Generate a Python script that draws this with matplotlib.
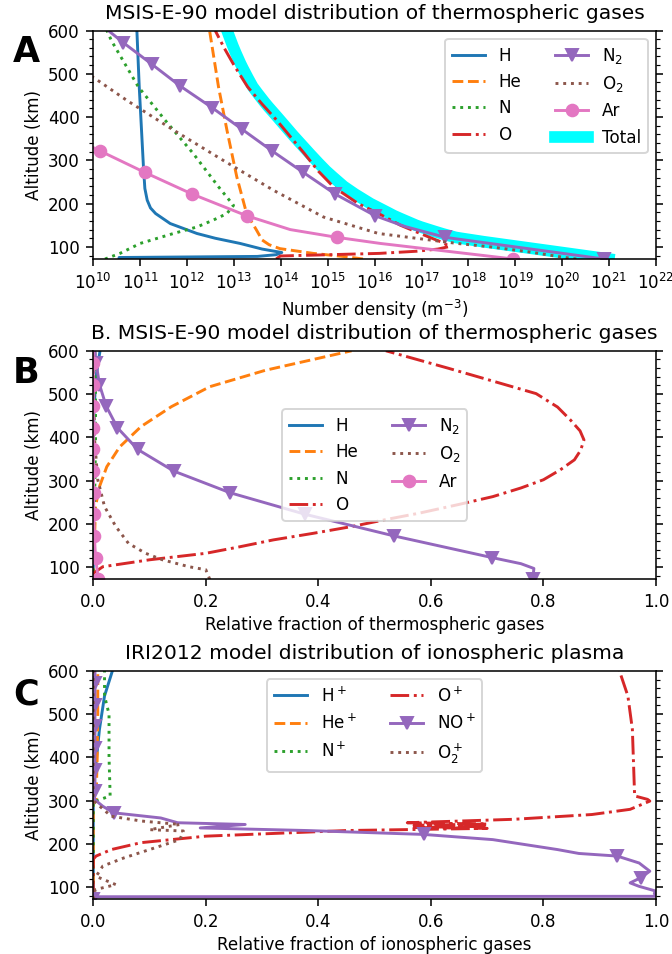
import numpy as np
import matplotlib
matplotlib.use("Agg")
import matplotlib.pyplot as plt
from matplotlib.ticker import AutoMinorLocator, LogLocator, NullLocator, MultipleLocator

# ---- panel A: MSIS-E-90 number densities, log10(m^-3) ----
h_alt = [72, 75.5, 78, 82, 87, 95, 108, 120, 131, 154, 177, 190, 208, 235, 285, 470, 600]
h_log = [10.55, 10.55, 13.5, 13.9, 14.02, 13.6, 13.13, 12.6, 12.21, 11.64, 11.33, 11.22, 11.15, 11.1, 11.07, 10.98, 10.93]
he_alt = [72, 77, 85, 96, 105, 116, 139, 177, 262, 370, 470, 600]
he_log = [15.75, 15.41, 14.69, 13.98, 13.75, 13.6, 13.48, 13.27, 13.06, 12.85, 12.67, 12.48]
n_alt = [72, 85, 108, 131, 146, 162, 177, 196, 239, 316, 393, 470, 576, 600]
n_log = [10.25, 10.57, 11.0, 11.71, 12.21, 12.56, 12.85, 12.99, 12.67, 12.13, 11.53, 10.96, 10.39, 10.29]
o_alt = [72, 79, 85, 90, 95, 101, 110, 131, 150, 175, 200, 239, 275, 316, 355, 393, 430, 470, 520, 560, 600]
o_log = [13.9, 13.99, 16.1, 16.9, 17.35, 17.6, 17.45, 16.97, 16.55, 16.12, 15.65, 15.12, 14.8, 14.5, 14.2, 13.91, 13.6, 13.29, 13.0, 12.79, 12.6]
n2_alt = [72, 97, 122, 147, 172, 222, 272, 322, 372, 422, 472, 522, 572, 600]
n2_log = [20.89, 19.2, 17.51, 16.65, 16.01, 15.16, 14.48, 13.81, 13.17, 12.53, 11.85, 11.25, 10.64, 10.32]
o2_alt = [72, 77, 88, 100, 108, 131, 169, 231, 300, 370, 439, 489, 522, 572, 600]
o2_log = [20.3, 19.96, 19.32, 18.47, 17.76, 16.08, 14.91, 13.84, 12.77, 11.71, 10.71, 10.04, 9.55, 8.8, 8.4]
ar_alt = [72, 108, 122, 140, 172, 222, 272, 322, 372, 422, 472, 522, 572, 600]
ar_log = [18.96, 16.12, 15.2, 14.2, 13.27, 12.11, 11.1, 10.14, 9.2, 8.3, 7.4, 6.5, 5.6, 5.1]

# ---- panel B: relative fractions of thermospheric gases ----
fb_h_alt = [72, 300, 400, 450, 500, 550, 600]
fb_h = [0.0, 0.0, 0.0005, 0.001, 0.003, 0.006, 0.012]
fb_he_alt = [72, 240, 286, 332, 378, 425, 471, 517, 555, 600]
fb_he = [0.0, 0.004, 0.011, 0.024, 0.047, 0.085, 0.139, 0.207, 0.306, 0.459]
fb_n_alt = [72, 150, 200, 300, 400, 500, 600]
fb_n = [0.0, 0.0002, 0.001, 0.003, 0.004, 0.004, 0.003]
fb_o_alt = [72, 86, 101, 117, 132, 147, 163, 178, 194, 210, 225, 245, 263, 283, 302, 325, 348, 370, 394, 415, 440, 470, 501, 530, 560, 600]
fb_o = [0.0, 0.0, 0.017, 0.10, 0.20, 0.26, 0.32, 0.39, 0.46, 0.52, 0.58, 0.65, 0.71, 0.76, 0.80, 0.83, 0.855, 0.866, 0.872, 0.865, 0.848, 0.825, 0.787, 0.71, 0.63, 0.52]
fb_n2_alt = [72, 97, 108, 122, 172, 222, 272, 322, 372, 422, 472, 522, 572, 600]
fb_n2 = [0.781, 0.783, 0.76, 0.709, 0.535, 0.377, 0.243, 0.143, 0.079, 0.043, 0.023, 0.011, 0.005, 0.003]
fb_o2_alt = [72, 94, 101, 117, 132, 155, 194, 240, 302, 400, 600]
fb_o2 = [0.207, 0.20, 0.17, 0.123, 0.093, 0.0625, 0.04, 0.02, 0.008, 0.002, 0.0003]
fb_ar_alt = [72, 122, 172, 222, 272, 322, 372, 422, 472, 522, 572, 600]
fb_ar = [0.009, 0.004, 0.002, 0.001, 0.0005, 0.0003, 0.0002, 0.0001, 0.0001, 0.0, 0.0, 0.0]

# ---- panel C: IRI2012 ion fractions ----
fc_h_alt = [72, 320, 388, 465, 542, 600]
fc_h = [0.0, 0.0, 0.005, 0.011, 0.02, 0.034]
fc_he_alt = [72, 300, 302, 400, 500, 600]
fc_he = [0.0, 0.0, 0.005, 0.007, 0.008, 0.008]
fc_n_alt = [72, 298, 303, 311, 400, 500, 542, 600]
fc_n = [0.0, 0.0, 0.013, 0.03, 0.028, 0.028, 0.02, 0.02]
fc_o_alt = [72, 165, 172, 187, 203, 218, 231, 236, 238, 241, 243, 246, 249, 257, 268, 280, 299, 303, 311, 388, 465, 542, 600]
fc_o = [0.0, 0.0, 0.005, 0.032, 0.085, 0.2, 0.45, 0.70, 0.57, 0.70, 0.57, 0.70, 0.558, 0.748, 0.886, 0.954, 0.989, 0.985, 0.962, 0.96, 0.958, 0.95, 0.935]
fc_no_alt = [72, 78, 79, 86, 91, 102, 110, 122, 137, 156, 172, 178, 187, 210, 222, 231, 237, 245, 249, 260, 272, 287, 303, 322, 372, 422, 472, 522, 572, 600]
fc_no = [0.0, 0.0, 1.0, 0.997, 1.0, 0.97, 0.954, 0.973, 0.989, 0.97, 0.931, 0.863, 0.825, 0.71, 0.587, 0.38, 0.19, 0.27, 0.15, 0.12, 0.036, 0.017, 0.002, 0.003, 0.003, 0.003, 0.003, 0.003, 0.003, 0.003]
fc_o2_alt = [72, 90, 95, 106, 125, 149, 168, 187, 210, 230, 233, 245, 253, 264, 300, 600]
fc_o2 = [0.0, 0.002, 0.005, 0.04, 0.005, 0.017, 0.055, 0.10, 0.154, 0.16, 0.10, 0.154, 0.085, 0.032, 0.0, 0.0]

plt.rcParams['font.size'] = 8.6
plt.rcParams['axes.titlesize'] = 10.4
plt.rcParams['axes.labelpad'] = 2.5

fig = plt.figure(figsize=(4.8, 954 / 140))
ax_a = fig.add_axes([0.1388, 0.7285, 0.8374, 0.2395])
ax_b = fig.add_axes([0.1388, 0.3928, 0.8374, 0.2395])
ax_c = fig.add_axes([0.1388, 0.0573, 0.8374, 0.2395])


def marks(alts):
    return [i for i, a in enumerate(alts) if (a - 72) % 50 == 0 and a < 600]


def dens(v):
    return 10.0 ** np.array(v)


ax_a.plot(dens(h_log), h_alt, '-', color='C0', label='H')
ax_a.plot(dens(he_log), he_alt, '--', color='C1', label='He')
ax_a.plot(dens(n_log), n_alt, ':', color='C2', label='N')
ax_a.plot(dens(o_log), o_alt, '-.', color='C3', label='O')
ax_a.plot(dens(n2_log), n2_alt, '-v', color='C4', markevery=marks(n2_alt), label='N$_2$')
ax_a.plot(dens(o2_log), o2_alt, ':', color='C5', label='O$_2$')
ax_a.plot(dens(ar_log), ar_alt, '-o', color='C6', markevery=marks(ar_alt), label='Ar')

# total density: sum of all species on a common altitude grid
grid = np.arange(72, 601, 2)
total = np.zeros(grid.size)
for a, v in [(h_alt, h_log), (he_alt, he_log), (n_alt, n_log), (o_alt, o_log),
             (n2_alt, n2_log), (o2_alt, o2_log), (ar_alt, ar_log)]:
    total += 10.0 ** np.interp(grid, a, v)
ax_a.plot(total, grid, '-', color='cyan', lw=6, label='Total', zorder=1)

ax_a.set_xscale('log')
ax_a.set_xlim(1e10, 1e22)
ax_a.xaxis.set_major_locator(LogLocator(base=10, numticks=15))
ax_a.xaxis.set_minor_locator(NullLocator())
ax_a.set_xlabel('Number density (m$^{-3}$)')
ax_a.set_title('MSIS-E-90 model distribution of thermospheric gases')
ax_a.legend(loc='upper right', ncol=2)

ax_b.plot(fb_h, fb_h_alt, '-', color='C0', label='H')
ax_b.plot(fb_he, fb_he_alt, '--', color='C1', label='He')
ax_b.plot(fb_n, fb_n_alt, ':', color='C2', label='N')
ax_b.plot(fb_o, fb_o_alt, '-.', color='C3', label='O')
ax_b.plot(fb_n2, fb_n2_alt, '-v', color='C4', markevery=marks(fb_n2_alt), label='N$_2$')
ax_b.plot(fb_o2, fb_o2_alt, ':', color='C5', label='O$_2$')
ax_b.plot(fb_ar, fb_ar_alt, '-o', color='C6', markevery=marks(fb_ar_alt), label='Ar')
ax_b.set_xlabel('Relative fraction of thermospheric gases')
ax_b.set_title('B. MSIS-E-90 model distribution of thermospheric gases')
ax_b.legend(loc='center', ncol=2)

ax_c.plot(fc_h, fc_h_alt, '-', color='C0', label='H$^+$')
ax_c.plot(fc_he, fc_he_alt, '--', color='C1', label='He$^+$')
ax_c.plot(fc_n, fc_n_alt, ':', color='C2', label='N$^+$')
ax_c.plot(fc_o, fc_o_alt, '-.', color='C3', label='O$^+$')
ax_c.plot(fc_no, fc_no_alt, '-v', color='C4', markevery=marks(fc_no_alt), label='NO$^+$')
ax_c.plot(fc_o2, fc_o2_alt, ':', color='C5', label='O$_2^+$')
ax_c.set_xlabel('Relative fraction of ionospheric gases')
ax_c.set_title('IRI2012 model distribution of ionospheric plasma')
ax_c.legend(loc='upper center', ncol=2)

for ax in (ax_b, ax_c):
    ax.set_xlim(0, 1)
    ax.xaxis.set_major_locator(MultipleLocator(0.2))

for ax in (ax_a, ax_b, ax_c):
    ax.set_ylim(72, 600)
    ax.set_ylabel('Altitude (km)')
    ax.yaxis.set_major_locator(MultipleLocator(100))
    ax.yaxis.set_minor_locator(AutoMinorLocator(5))
    ax.tick_params(axis='y', which='both', right=True)

for letter, y in [('A', 0.945), ('B', 0.609), ('C', 0.272)]:
    fig.text(0.039, y, letter, fontsize=18, fontweight='bold', ha='center', va='center')

fig.savefig('out.png', dpi=140)
